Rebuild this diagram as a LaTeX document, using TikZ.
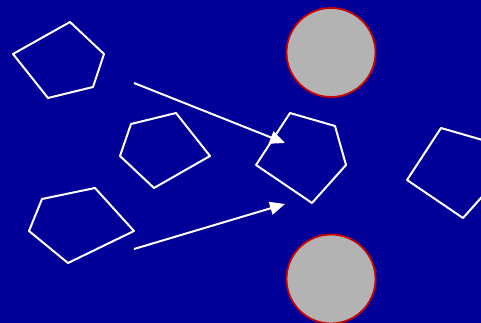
\documentclass[tikz,border=0pt]{standalone}
\usetikzlibrary{arrows.meta}
\definecolor{bgblue}{RGB}{0,0,153}
\definecolor{disc}{RGB}{179,179,179}
\definecolor{rim}{RGB}{204,0,0}
\tikzset{
  shapeline/.style={draw=white, line width=2pt, line join=round},
  discshape/.style={circle, draw=rim, fill=disc, line width=1.8pt, minimum size=89pt, inner sep=0pt},
  pointer/.style={draw=white, line width=2pt, -{Triangle[length=15pt,width=13pt]}}
}
\begin{document}
\begin{tikzpicture}[x=1pt,y=-1pt]
\fill[bgblue] (0,0) rectangle (481,323);
\useasboundingbox (0,0) rectangle (481,323);
% pentagons
\draw[shapeline] (70,22) -- (104,54) -- (93,87) -- (48,98) -- (13,54) -- cycle;
\draw[shapeline] (131,124) -- (176,113) -- (210,156) -- (154,188) -- (120,156) -- cycle;
\draw[shapeline] (42,199) -- (95,188) -- (134,231) -- (68,263) -- (29,231) -- cycle;
\draw[shapeline] (290,113) -- (335,126) -- (346,165) -- (312,203) -- (256,165) -- cycle;
\begin{scope}
\clip (0,0) rectangle (481,323);
\draw[shapeline] (441,128) -- (486,141) -- (497,180) -- (463,218) -- (407,180) -- cycle;
\node[discshape] (top) at (331,52.5) {};
\node[discshape] (bottom) at (331,279) {};
\end{scope}
% arrows
\coordinate (a1s) at (134,83);
\coordinate (a1e) at (285,143);
\coordinate (a2s) at (134,249);
\coordinate (a2e) at (285,204);
\draw[pointer] (a1s) -- (a1e);
\draw[pointer] (a2s) -- (a2e);
\end{tikzpicture}
\end{document}
